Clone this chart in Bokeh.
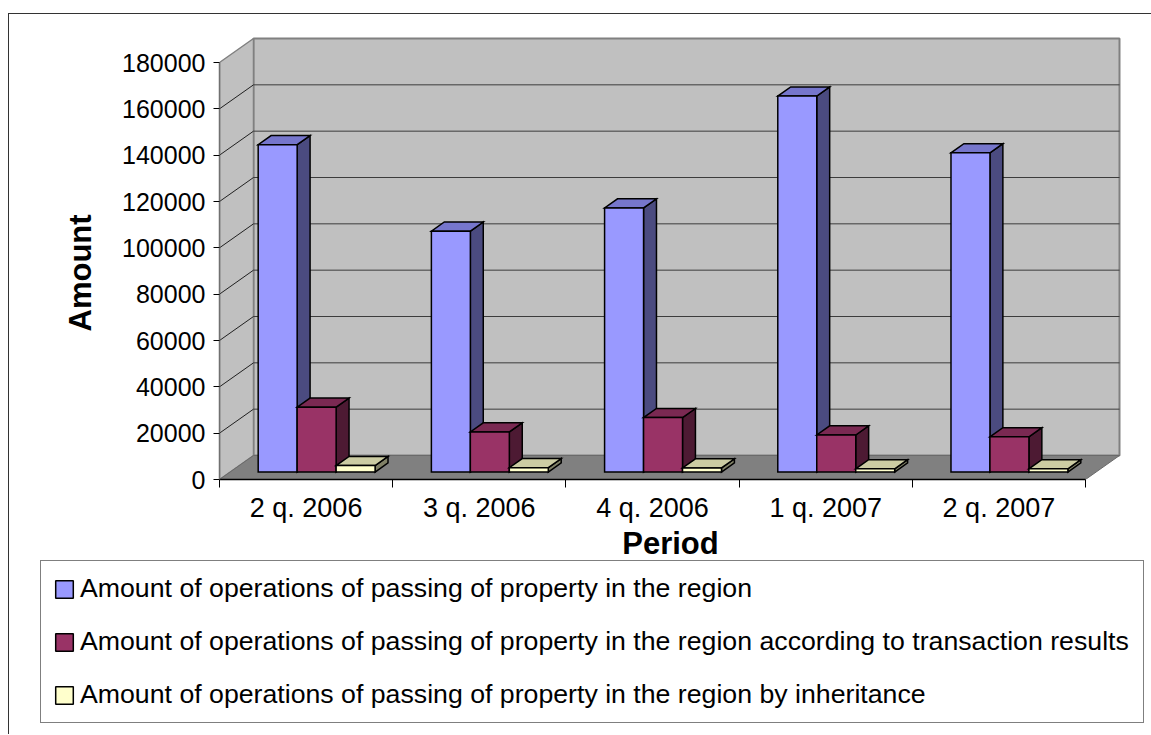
import numpy as np
from bokeh.plotting import figure
from bokeh.models import FixedTicker, Legend, LegendItem, Range1d, Title
from bokeh.layouts import column
from bokeh.embed import file_html
from bokeh.resources import INLINE

# ---------------- data ----------------
categories = ["2 q. 2006", "3 q. 2006", "4 q. 2006", "1 q. 2007", "2 q. 2007"]
series_names = [
    "Amount of operations of passing of property in the region",
    "Amount of operations of passing of property in the region according to transaction results",
    "Amount of operations of passing of property in the region by inheritance",
]
total_ops = [141300, 104000, 114000, 162300, 137800]
transaction_ops = [28000, 17300, 23500, 16000, 15200]
inheritance_ops = [2800, 1900, 1800, 1400, 1400]
y_ticks = [0, 20000, 40000, 60000, 80000, 100000, 120000, 140000, 160000, 180000]

series = [total_ops, transaction_ops, inheritance_ops]
front_colors = ["#9999FF", "#993366", "#FFFFCC"]
top_colors = ["#7676CC", "#7A2952", "#CCCCA3"]
side_colors = ["#4B4B80", "#4D1A33", "#808066"]

FONT = "Liberation Sans"

# ---------------- geometry (pixels -> data units) ----------------
ncat = len(categories)
ymax = y_ticks[-1]
FRONT_W_PX = 866.0
FRONT_H_PX = 417.0
DEPTH_X_PX, DEPTH_Y_PX = 34.0, 24.0
ux = ncat / FRONT_W_PX
uy = ymax / FRONT_H_PX
DX, DY = DEPTH_X_PX * ux, DEPTH_Y_PX * uy

GAP = 0.1625
BW = 0.225
F0 = 0.31
BD = 0.38

W = 1142
H_CHART = 553
H_LEG = 175

p = figure(width=W, height=H_CHART,
           x_range=Range1d(0, ncat + DX + 2 * ux),
           y_range=Range1d(0, ymax + DY + 2 * uy),
           min_border_left=210, min_border_right=30,
           min_border_top=22, min_border_bottom=88,
           output_backend="svg", toolbar_location=None)
p.frame_align = False
p.outline_line_color = None
p.xgrid.visible = False
p.ygrid.visible = False
p.background_fill_color = "white"
p.border_fill_color = "white"

# ---------------- walls & floor ----------------
p.quad(left=[DX], right=[ncat + DX], bottom=[DY], top=[ymax + DY],
       fill_color="#C0C0C0", line_color="#808080", line_width=2)
p.patch([0, DX, DX, 0], [0, DY, ymax + DY, ymax],
        fill_color="#C0C0C0", line_color="#808080", line_width=1.5)
p.patch([0, ncat, ncat + DX, DX], [0, 0, DY, DY],
        fill_color="#808080", line_color="#6A6A6A", line_width=1)

inner = y_ticks[1:-1]
p.segment(x0=[DX] * len(inner), y0=[v + DY for v in inner],
          x1=[ncat + DX] * len(inner), y1=[v + DY for v in inner],
          line_color="#3C3C3C", line_width=1)
p.segment(x0=[0] * len(inner), y0=inner, x1=[DX] * len(inner),
          y1=[v + DY for v in inner], line_color="#202020", line_width=1)

# ---------------- bars ----------------
y0 = F0 * DY
bdx, bdy = BD * DX, BD * DY
for j, vals in enumerate(series):
    xl = [i + GAP + j * BW + F0 * DX for i in range(ncat)]
    xr = [x + BW for x in xl]
    yt = [y0 + v for v in vals]
    side_xs = [[r, r + bdx, r + bdx, r] for r in xr]
    side_ys = [[y0, y0 + bdy, t + bdy, t] for t in yt]
    top_xs = [[l, r, r + bdx, l + bdx] for l, r in zip(xl, xr)]
    top_ys = [[t, t, t + bdy, t + bdy] for t in yt]
    p.patches(side_xs, side_ys, fill_color=side_colors[j], line_color="black",
              line_width=1.5, line_join="miter")
    p.patches(top_xs, top_ys, fill_color=top_colors[j], line_color="black",
              line_width=1.5, line_join="miter")
    p.quad(left=xl, right=xr, bottom=[y0] * ncat, top=yt,
           fill_color=front_colors[j], line_color="black", line_width=1.5,
           line_join="miter")

# ---------------- axes ----------------
xa = p.xaxis[0]
xa.ticker = FixedTicker(ticks=[i + 0.5 for i in range(ncat)],
                        minor_ticks=list(range(ncat + 1)))
xa.major_label_overrides = {i + 0.5: c for i, c in enumerate(categories)}
xa.bounds = (0, ncat)
xa.axis_line_color = "black"
xa.axis_line_width = 1.5
xa.major_tick_out = 0
xa.major_tick_in = 0
xa.minor_tick_out = 8
xa.minor_tick_in = 0
xa.minor_tick_line_color = "black"
xa.minor_tick_line_width = 1
xa.major_label_text_font = FONT
xa.major_label_text_font_size = "27px"
xa.major_label_text_color = "black"
xa.major_label_standoff = 5
xa.axis_label = "Period"
xa.axis_label_text_font = FONT
xa.axis_label_text_font_size = "31px"
xa.axis_label_text_font_style = "bold"
xa.axis_label_text_color = "black"
xa.axis_label_standoff = 0

ya = p.yaxis[0]
ya.ticker = FixedTicker(ticks=y_ticks, minor_ticks=[])
ya.major_label_overrides = {v: str(v) for v in y_ticks}
ya.bounds = (0, ymax)
ya.axis_line_color = "#707070"
ya.axis_line_width = 1.5
ya.major_tick_out = 6
ya.major_tick_in = 0
ya.major_tick_line_color = "black"
ya.minor_tick_out = 0
ya.minor_tick_in = 0
ya.major_label_text_font = FONT
ya.major_label_text_font_size = "25px"
ya.major_label_text_color = "black"
ya.major_label_standoff = 8

# y-axis title, centred on the value range (0..ymax) like the original
p.add_layout(Title(text="Amount", align="left", offset=148, standoff=43,
                   vertical_align="bottom", text_font=FONT, text_font_size="31px",
                   text_font_style="bold", text_color="black"), "left")

# ---------------- legend (own strip below the chart) ----------------
pl = figure(width=W, height=H_LEG, x_range=Range1d(0, 1), y_range=Range1d(0, 1),
            min_border_left=0, min_border_right=0, min_border_top=0, min_border_bottom=0,
            x_axis_location=None, y_axis_location=None,
            output_backend="svg", toolbar_location=None)
pl.frame_align = False
pl.outline_line_color = None
pl.xgrid.visible = False
pl.ygrid.visible = False
pl.background_fill_alpha = 0
pl.border_fill_alpha = 0
pl.styles = {"margin-top": "-8px"}
hidden = np.array([np.nan])
swatches = [pl.quad(left=hidden, right=hidden, bottom=hidden, top=hidden, fill_color=c,
                    line_color="black", line_width=1.5) for c in front_colors]
legend = Legend(
    items=[LegendItem(label=n, renderers=[r]) for n, r in zip(series_names, swatches)],
    location=(31, 11), orientation="vertical",
    glyph_width=22, glyph_height=22, label_standoff=5,
    padding=12, spacing=22, label_height=31, label_width=1051, margin=0,
    border_line_color="black", border_line_width=1,
    background_fill_color="white", background_fill_alpha=1,
    label_text_font=FONT, label_text_font_size="26.7px", label_text_color="black",
)
pl.add_layout(legend)

layout = column(p, pl, spacing=0)
layout.styles = {"border-left": "1px solid #333333", "border-top": "1px solid #333333",
                 "margin-top": "13px", "margin-left": "8px"}

open("out.html", "w").write(file_html(layout, INLINE))
